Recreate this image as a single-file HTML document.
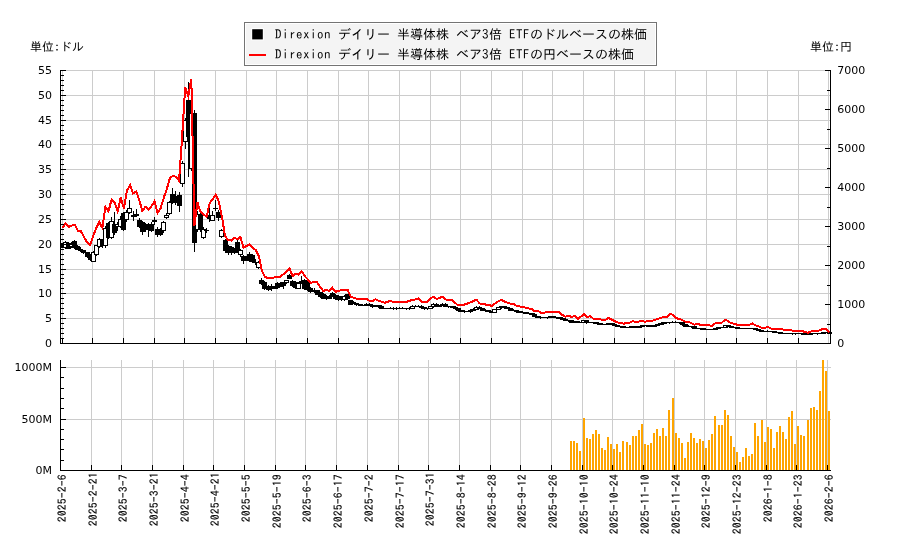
<!DOCTYPE html>
<html><head><meta charset="utf-8"><style>
html,body{margin:0;padding:0;background:#fff;}
body{width:900px;height:550px;overflow:hidden;}
svg{display:block;will-change:transform;}
</style></head><body>
<svg width="900" height="550" viewBox="0 0 900 550">
<rect width="900" height="550" fill="#ffffff"/>
<g shape-rendering="crispEdges">
<path d="M62 70h1v273h-1zM92 70h1v273h-1zM123 70h1v273h-1zM154 70h1v273h-1zM184 70h1v273h-1zM215 70h1v273h-1zM246 70h1v273h-1zM276 70h1v273h-1zM307 70h1v273h-1zM338 70h1v273h-1zM368 70h1v273h-1zM399 70h1v273h-1zM430 70h1v273h-1zM460 70h1v273h-1zM491 70h1v273h-1zM522 70h1v273h-1zM552 70h1v273h-1zM583 70h1v273h-1zM614 70h1v273h-1zM644 70h1v273h-1zM675 70h1v273h-1zM706 70h1v273h-1zM736 70h1v273h-1zM767 70h1v273h-1zM798 70h1v273h-1zM828 70h1v273h-1zM61 318h769v1h-769zM61 293h769v1h-769zM61 269h769v1h-769zM61 244h769v1h-769zM61 219h769v1h-769zM61 194h769v1h-769zM61 169h769v1h-769zM61 144h769v1h-769zM61 120h769v1h-769zM61 95h769v1h-769zM61 70h769v1h-769zM60 360h1v110h-1zM91 360h1v110h-1zM121 360h1v110h-1zM152 360h1v110h-1zM183 360h1v110h-1zM213 360h1v110h-1zM244 360h1v110h-1zM275 360h1v110h-1zM305 360h1v110h-1zM336 360h1v110h-1zM367 360h1v110h-1zM398 360h1v110h-1zM428 360h1v110h-1zM459 360h1v110h-1zM490 360h1v110h-1zM520 360h1v110h-1zM551 360h1v110h-1zM582 360h1v110h-1zM612 360h1v110h-1zM643 360h1v110h-1zM674 360h1v110h-1zM704 360h1v110h-1zM735 360h1v110h-1zM766 360h1v110h-1zM796 360h1v110h-1zM827 360h1v110h-1zM61 419h770v1h-770zM61 367h770v1h-770z" fill="#cccccc"/>
<g fill="#000"><path d="M62 243h1v5h-1zM60 243h5v5h-5z"/><path d="M65 241h1v8h-1zM63 242h5v6h-5z"/><path d="M64 243h3v4h-3z" fill="#fff"/><path d="M68 242h1v7h-1zM66 243h5v6h-5z"/><path d="M71 242h1v6h-1zM69 244h5v3h-5z"/><path d="M70 245h3v1h-3z" fill="#fff"/><path d="M74 240h1v9h-1zM72 241h5v7h-5z"/><path d="M77 245h1v5h-1zM75 246h5v4h-5z"/><path d="M80 247h1v5h-1zM78 249h5v2h-5z"/><path d="M83 250h1v4h-1zM81 250h5v3h-5z"/><path d="M87 252h1v6h-1zM85 252h5v5h-5z"/><path d="M90 254h1v7h-1zM88 256h5v4h-5z"/><path d="M93 251h1v11h-1zM91 252h5v10h-5z"/><path d="M92 253h3v8h-3z" fill="#fff"/><path d="M96 245h1v11h-1zM94 245h5v10h-5z"/><path d="M95 246h3v8h-3z" fill="#fff"/><path d="M99 238h1v10h-1zM97 239h5v8h-5z"/><path d="M98 240h3v6h-3z" fill="#fff"/><path d="M102 239h1v9h-1zM100 240h5v6h-5z"/><path d="M105 226h1v22h-1zM103 228h5v18h-5z"/><path d="M104 229h3v16h-3z" fill="#fff"/><path d="M108 222h1v17h-1zM106 223h5v15h-5z"/><path d="M111 217h1v22h-1zM109 221h5v17h-5z"/><path d="M110 222h3v15h-3z" fill="#fff"/><path d="M114 212h1v23h-1zM112 224h5v9h-5z"/><path d="M117 222h1v9h-1zM115 224h5v3h-5z"/><path d="M116 225h3v1h-3z" fill="#fff"/><path d="M120 216h1v12h-1zM118 219h5v8h-5z"/><path d="M119 220h3v6h-3z" fill="#fff"/><path d="M123 212h1v19h-1zM121 213h5v17h-5z"/><path d="M126 210h1v12h-1zM124 212h5v8h-5z"/><path d="M125 213h3v6h-3z" fill="#fff"/><path d="M129 200h1v14h-1zM127 208h5v5h-5z"/><path d="M128 209h3v3h-3z" fill="#fff"/><path d="M133 211h1v10h-1zM131 215h5v2h-5z"/><path d="M136 209h1v8h-1zM134 214h5v2h-5z"/><path d="M139 218h1v10h-1zM137 220h5v7h-5z"/><path d="M142 221h1v14h-1zM140 222h5v10h-5z"/><path d="M145 223h1v9h-1zM143 225h5v5h-5z"/><path d="M148 223h1v14h-1zM146 224h5v5h-5z"/><path d="M151 222h1v10h-1zM149 224h5v7h-5z"/><path d="M154 217h1v8h-1zM152 220h5v2h-5z"/><path d="M157 227h1v10h-1zM155 229h5v6h-5z"/><path d="M160 228h1v8h-1zM158 230h5v5h-5z"/><path d="M163 221h1v12h-1zM161 222h5v9h-5z"/><path d="M162 223h3v7h-3z" fill="#fff"/><path d="M166 213h1v6h-1zM164 215h5v3h-5z"/><path d="M165 216h3v1h-3z" fill="#fff"/><path d="M169 201h1v14h-1zM167 202h5v12h-5z"/><path d="M168 203h3v10h-3z" fill="#fff"/><path d="M172 188h1v16h-1zM170 194h5v9h-5z"/><path d="M175 191h1v14h-1zM173 196h5v7h-5z"/><path d="M179 192h1v20h-1zM177 195h5v11h-5z"/><path d="M182 161h1v26h-1zM180 163h5v21h-5z"/><path d="M181 164h3v19h-3z" fill="#fff"/><path d="M185 118h1v31h-1zM183 120h5v22h-5z"/><path d="M184 121h3v20h-3z" fill="#fff"/><path d="M188 82h1v95h-1zM186 100h5v37h-5z"/><path d="M191 112h1v59h-1zM189 113h5v56h-5z"/><path d="M190 114h3v54h-3z" fill="#fff"/><path d="M194 110h1v142h-1zM192 113h5v130h-5z"/><path d="M197 211h1v21h-1zM195 214h5v16h-5z"/><path d="M196 215h3v14h-3z" fill="#fff"/><path d="M200 212h1v20h-1zM198 214h5v16h-5z"/><path d="M203 227h1v12h-1zM201 229h5v9h-5z"/><path d="M202 230h3v7h-3z" fill="#fff"/><path d="M206 228h1v5h-1zM204 230h5v1h-5z"/><path d="M209 206h1v16h-1zM207 215h5v4h-5z"/><path d="M212 211h1v10h-1zM210 215h5v6h-5z"/><path d="M211 216h3v4h-3z" fill="#fff"/><path d="M215 200h1v11h-1zM213 208h5v1h-5z"/><path d="M218 210h1v11h-1zM216 212h5v6h-5z"/><path d="M221 229h1v9h-1zM219 230h5v7h-5z"/><path d="M220 231h3v5h-3z" fill="#fff"/><path d="M225 239h1v14h-1zM223 240h5v11h-5z"/><path d="M228 245h1v10h-1zM226 246h5v7h-5z"/><path d="M231 246h1v9h-1zM229 247h5v6h-5z"/><path d="M234 248h1v6h-1zM232 249h5v4h-5z"/><path d="M237 240h1v13h-1zM235 242h5v9h-5z"/><path d="M240 249h1v8h-1zM238 250h5v5h-5z"/><path d="M239 251h3v3h-3z" fill="#fff"/><path d="M243 255h1v9h-1zM241 256h5v5h-5z"/><path d="M246 256h1v5h-1zM244 257h5v2h-5z"/><path d="M249 252h1v10h-1zM247 254h5v7h-5z"/><path d="M252 254h1v9h-1zM250 255h5v7h-5z"/><path d="M255 259h1v6h-1zM253 262h5v1h-5z"/><path d="M258 261h1v8h-1zM256 262h5v6h-5z"/><path d="M257 263h3v4h-3z" fill="#fff"/><path d="M261 278h1v7h-1zM259 280h5v4h-5z"/><path d="M264 281h1v9h-1zM262 282h5v7h-5z"/><path d="M268 285h1v6h-1zM266 286h5v4h-5z"/><path d="M271 284h1v7h-1zM269 286h5v3h-5z"/><path d="M274 286h1v3h-1zM272 286h5v3h-5z"/><path d="M277 282h1v7h-1zM275 283h5v5h-5z"/><path d="M280 282h1v5h-1zM278 283h5v4h-5z"/><path d="M283 282h1v7h-1zM281 282h5v4h-5z"/><path d="M286 280h1v4h-1zM284 280h5v3h-5z"/><path d="M285 281h3v1h-3z" fill="#fff"/><path d="M289 274h1v5h-1zM287 275h5v4h-5z"/><path d="M292 280h1v7h-1zM290 281h5v5h-5z"/><path d="M295 281h1v8h-1zM293 282h5v6h-5z"/><path d="M298 282h1v7h-1zM296 283h5v6h-5z"/><path d="M297 284h3v4h-3z" fill="#fff"/><path d="M301 276h1v8h-1zM299 281h5v2h-5z"/><path d="M304 279h1v11h-1zM302 280h5v9h-5z"/><path d="M307 281h1v10h-1zM305 282h5v8h-5z"/><path d="M310 287h1v6h-1zM308 288h5v4h-5z"/><path d="M314 288h1v5h-1zM312 290h5v2h-5z"/><path d="M317 290h1v5h-1zM315 290h5v5h-5z"/><path d="M320 292h1v6h-1zM318 292h5v5h-5z"/><path d="M323 293h1v6h-1zM321 294h5v5h-5z"/><path d="M326 295h1v5h-1zM324 296h5v3h-5z"/><path d="M329 295h1v4h-1zM327 296h5v3h-5z"/><path d="M332 292h1v5h-1zM330 293h5v4h-5z"/><path d="M335 294h1v6h-1zM333 295h5v4h-5z"/><path d="M338 295h1v6h-1zM336 296h5v4h-5z"/><path d="M341 296h1v5h-1zM339 297h5v3h-5z"/><path d="M344 295h1v6h-1zM342 296h5v4h-5z"/><path d="M343 297h3v2h-3z" fill="#fff"/><path d="M347 294h1v6h-1zM345 294h5v5h-5z"/><path d="M350 300h1v5h-1zM348 300h5v5h-5z"/><path d="M353 301h1v3h-1zM351 302h5v2h-5z"/><path d="M356 303h1v3h-1zM354 303h5v2h-5z"/><path d="M360 304h1v2h-1zM358 304h5v2h-5z"/><path d="M363 305h1v1h-1zM361 305h5v1h-5z"/><path d="M366 303h1v3h-1zM364 304h5v2h-5z"/><path d="M369 303h1v3h-1zM367 304h5v2h-5z"/><path d="M372 304h1v4h-1zM370 305h5v2h-5z"/><path d="M375 305h1v2h-1zM373 305h5v2h-5z"/><path d="M378 305h1v3h-1zM376 305h5v2h-5z"/><path d="M381 305h1v4h-1zM379 306h5v3h-5z"/><path d="M384 308h1v1h-1zM382 308h5v1h-5z"/><path d="M387 308h1v1h-1zM385 308h5v1h-5z"/><path d="M390 307h1v2h-1zM388 308h5v1h-5z"/><path d="M393 307h1v3h-1zM391 308h5v1h-5z"/><path d="M396 307h1v3h-1zM394 308h5v1h-5z"/><path d="M399 307h1v2h-1zM397 308h5v1h-5z"/><path d="M402 307h1v2h-1zM400 308h5v1h-5z"/><path d="M406 308h1v2h-1zM404 308h5v1h-5z"/><path d="M409 307h1v3h-1zM407 308h5v1h-5z"/><path d="M412 305h1v4h-1zM410 306h5v3h-5z"/><path d="M411 307h3v1h-3z" fill="#fff"/><path d="M415 305h1v2h-1zM413 306h5v1h-5z"/><path d="M418 305h1v2h-1zM416 306h5v1h-5z"/><path d="M421 305h1v4h-1zM419 306h5v2h-5z"/><path d="M424 307h1v3h-1zM422 307h5v2h-5z"/><path d="M427 308h1v2h-1zM425 308h5v1h-5z"/><path d="M430 306h1v3h-1zM428 306h5v3h-5z"/><path d="M429 307h3v1h-3z" fill="#fff"/><path d="M433 303h1v5h-1zM431 304h5v3h-5z"/><path d="M432 305h3v1h-3z" fill="#fff"/><path d="M436 303h1v4h-1zM434 304h5v3h-5z"/><path d="M439 305h1v2h-1zM437 305h5v2h-5z"/><path d="M442 303h1v3h-1zM440 304h5v2h-5z"/><path d="M445 303h1v4h-1zM443 304h5v3h-5z"/><path d="M448 306h1v2h-1zM446 306h5v1h-5z"/><path d="M452 306h1v2h-1zM450 306h5v2h-5z"/><path d="M455 306h1v4h-1zM453 307h5v2h-5z"/><path d="M458 308h1v4h-1zM456 308h5v3h-5z"/><path d="M461 310h1v2h-1zM459 310h5v2h-5z"/><path d="M464 310h1v3h-1zM462 311h5v1h-5z"/><path d="M467 311h1v1h-1zM465 311h5v1h-5z"/><path d="M470 309h1v4h-1zM468 310h5v2h-5z"/><path d="M473 308h1v3h-1zM471 309h5v2h-5z"/><path d="M476 306h1v4h-1zM474 307h5v3h-5z"/><path d="M475 308h3v1h-3z" fill="#fff"/><path d="M479 306h1v3h-1zM477 307h5v2h-5z"/><path d="M482 308h1v3h-1zM480 308h5v3h-5z"/><path d="M485 309h1v3h-1zM483 310h5v1h-5z"/><path d="M488 310h1v2h-1zM486 310h5v2h-5z"/><path d="M491 311h1v2h-1zM489 311h5v2h-5z"/><path d="M494 309h1v4h-1zM492 309h5v4h-5z"/><path d="M493 310h3v2h-3z" fill="#fff"/><path d="M498 307h1v3h-1zM496 307h5v3h-5z"/><path d="M497 308h3v1h-3z" fill="#fff"/><path d="M501 306h1v3h-1zM499 306h5v2h-5z"/><path d="M504 306h1v3h-1zM502 306h5v2h-5z"/><path d="M507 307h1v2h-1zM505 307h5v2h-5z"/><path d="M510 308h1v3h-1zM508 308h5v3h-5z"/><path d="M513 309h1v2h-1zM511 310h5v1h-5z"/><path d="M516 310h1v3h-1zM514 310h5v2h-5z"/><path d="M519 311h1v2h-1zM517 311h5v2h-5z"/><path d="M522 311h1v2h-1zM520 312h5v1h-5z"/><path d="M525 312h1v2h-1zM523 312h5v2h-5z"/><path d="M528 312h1v2h-1zM526 313h5v1h-5z"/><path d="M531 313h1v2h-1zM529 313h5v2h-5z"/><path d="M534 313h1v4h-1zM532 314h5v3h-5z"/><path d="M537 316h1v2h-1zM535 316h5v2h-5z"/><path d="M540 316h1v3h-1zM538 317h5v1h-5z"/><path d="M544 317h1v1h-1zM542 317h5v1h-5z"/><path d="M547 317h1v2h-1zM545 317h5v1h-5z"/><path d="M550 316h1v2h-1zM548 316h5v2h-5z"/><path d="M553 316h1v2h-1zM551 316h5v2h-5z"/><path d="M556 317h1v2h-1zM554 317h5v1h-5z"/><path d="M559 317h1v2h-1zM557 317h5v2h-5z"/><path d="M562 317h1v3h-1zM560 318h5v2h-5z"/><path d="M565 318h1v3h-1zM563 319h5v2h-5z"/><path d="M568 320h1v2h-1zM566 320h5v1h-5z"/><path d="M571 320h1v3h-1zM569 320h5v3h-5z"/><path d="M574 321h1v2h-1zM572 321h5v2h-5z"/><path d="M577 321h1v2h-1zM575 321h5v2h-5z"/><path d="M580 322h1v1h-1zM578 322h5v1h-5z"/><path d="M583 320h1v3h-1zM581 320h5v3h-5z"/><path d="M582 321h3v1h-3z" fill="#fff"/><path d="M586 320h1v4h-1zM584 320h5v3h-5z"/><path d="M590 322h1v1h-1zM588 322h5v1h-5z"/><path d="M593 322h1v2h-1zM591 322h5v1h-5z"/><path d="M596 322h1v2h-1zM594 322h5v2h-5z"/><path d="M599 323h1v2h-1zM597 323h5v2h-5z"/><path d="M602 323h1v2h-1zM600 324h5v1h-5z"/><path d="M605 324h1v1h-1zM603 324h5v1h-5z"/><path d="M608 323h1v2h-1zM606 323h5v2h-5z"/><path d="M611 323h1v2h-1zM609 323h5v2h-5z"/><path d="M614 323h1v3h-1zM612 324h5v2h-5z"/><path d="M617 325h1v2h-1zM615 325h5v2h-5z"/><path d="M620 326h1v2h-1zM618 326h5v1h-5z"/><path d="M623 326h1v2h-1zM621 326h5v2h-5z"/><path d="M626 327h1v1h-1zM624 327h5v1h-5z"/><path d="M629 326h1v2h-1zM627 327h5v1h-5z"/><path d="M632 326h1v2h-1zM630 326h5v2h-5z"/><path d="M636 326h1v2h-1zM634 326h5v2h-5z"/><path d="M639 326h1v2h-1zM637 326h5v2h-5z"/><path d="M642 325h1v2h-1zM640 325h5v2h-5z"/><path d="M645 325h1v1h-1zM643 325h5v1h-5z"/><path d="M648 325h1v2h-1zM646 325h5v2h-5z"/><path d="M651 325h1v2h-1zM649 326h5v1h-5z"/><path d="M654 325h1v2h-1zM652 325h5v2h-5z"/><path d="M657 324h1v2h-1zM655 324h5v2h-5z"/><path d="M660 323h1v2h-1zM658 323h5v2h-5z"/><path d="M663 322h1v3h-1zM661 322h5v2h-5z"/><path d="M666 322h1v2h-1zM664 322h5v1h-5z"/><path d="M669 322h1v2h-1zM667 322h5v1h-5z"/><path d="M672 321h1v2h-1zM670 322h5v1h-5z"/><path d="M675 321h1v2h-1zM673 322h5v1h-5z"/><path d="M679 322h1v2h-1zM677 322h5v1h-5z"/><path d="M682 322h1v4h-1zM680 322h5v3h-5z"/><path d="M685 324h1v3h-1zM683 324h5v3h-5z"/><path d="M688 325h1v2h-1zM686 326h5v1h-5z"/><path d="M691 326h1v2h-1zM689 326h5v1h-5z"/><path d="M694 326h1v3h-1zM692 326h5v3h-5z"/><path d="M697 328h1v1h-1zM695 328h5v1h-5z"/><path d="M700 328h1v2h-1zM698 328h5v1h-5z"/><path d="M703 328h1v2h-1zM701 328h5v2h-5z"/><path d="M706 329h1v1h-1zM704 329h5v1h-5z"/><path d="M709 329h1v1h-1zM707 329h5v1h-5z"/><path d="M712 329h1v1h-1zM710 329h5v1h-5z"/><path d="M715 328h1v2h-1zM713 328h5v2h-5z"/><path d="M718 327h1v2h-1zM716 327h5v2h-5z"/><path d="M721 327h1v1h-1zM719 327h5v1h-5z"/><path d="M725 325h1v3h-1zM723 325h5v3h-5z"/><path d="M724 326h3v1h-3z" fill="#fff"/><path d="M728 325h1v2h-1zM726 325h5v2h-5z"/><path d="M731 326h1v2h-1zM729 326h5v2h-5z"/><path d="M734 327h1v1h-1zM732 327h5v1h-5z"/><path d="M737 327h1v2h-1zM735 327h5v2h-5z"/><path d="M740 328h1v1h-1zM738 328h5v1h-5z"/><path d="M743 328h1v1h-1zM741 328h5v1h-5z"/><path d="M746 328h1v1h-1zM744 328h5v1h-5z"/><path d="M749 328h1v1h-1zM747 328h5v1h-5z"/><path d="M752 328h1v1h-1zM750 328h5v1h-5z"/><path d="M755 328h1v2h-1zM753 328h5v2h-5z"/><path d="M758 329h1v2h-1zM756 329h5v2h-5z"/><path d="M761 330h1v2h-1zM759 330h5v2h-5z"/><path d="M764 331h1v1h-1zM762 331h5v1h-5z"/><path d="M767 330h1v2h-1zM765 331h5v1h-5z"/><path d="M771 331h1v1h-1zM769 331h5v1h-5z"/><path d="M774 331h1v2h-1zM772 331h5v2h-5z"/><path d="M777 332h1v1h-1zM775 332h5v1h-5z"/><path d="M780 332h1v2h-1zM778 332h5v2h-5z"/><path d="M783 333h1v1h-1zM781 333h5v1h-5z"/><path d="M786 333h1v1h-1zM784 333h5v1h-5z"/><path d="M789 333h1v1h-1zM787 333h5v1h-5z"/><path d="M792 333h1v2h-1zM790 333h5v1h-5z"/><path d="M795 333h1v2h-1zM793 333h5v1h-5z"/><path d="M798 333h1v1h-1zM796 333h5v1h-5z"/><path d="M801 333h1v2h-1zM799 333h5v1h-5z"/><path d="M804 333h1v2h-1zM802 333h5v2h-5z"/><path d="M807 334h1v1h-1zM805 334h5v1h-5z"/><path d="M810 333h1v2h-1zM808 333h5v2h-5z"/><path d="M813 333h1v1h-1zM811 333h5v1h-5z"/><path d="M817 333h1v2h-1zM815 333h5v1h-5z"/><path d="M820 333h1v1h-1zM818 333h5v1h-5z"/><path d="M823 332h1v2h-1zM821 332h5v2h-5z"/><path d="M826 332h1v1h-1zM824 332h5v1h-5z"/><path d="M829 332h1v2h-1zM827 332h5v2h-5z"/></g>
<polyline points="62.50,228.20 65.57,223.60 68.63,226.80 71.70,225.70 74.77,224.50 77.84,230.90 80.90,231.20 83.97,236.80 87.04,242.30 90.10,244.80 93.17,236.00 96.24,228.00 99.31,222.10 102.37,227.90 105.44,206.80 108.51,211.20 111.58,199.50 114.64,202.40 117.71,211.20 120.78,197.40 123.84,208.40 126.91,190.90 129.98,184.90 133.05,193.60 136.11,191.50 139.18,199.60 142.25,211.10 145.31,206.70 148.38,209.40 151.45,206.20 154.52,201.30 157.58,212.70 160.65,208.20 163.72,198.00 166.78,189.00 169.85,178.30 172.92,175.70 175.99,177.00 179.05,180.80 182.12,137.00 185.19,87.00 188.26,96.00 191.32,79.00 194.39,225.50 197.46,202.40 200.52,211.90 203.59,214.80 206.66,216.60 209.73,203.00 212.79,198.90 215.86,194.70 218.93,201.80 221.99,217.20 225.06,236.10 228.13,240.20 231.20,240.50 234.26,237.60 237.33,239.30 240.40,237.00 243.46,247.60 246.53,246.00 249.60,244.00 252.67,248.00 255.73,250.00 258.80,256.00 261.87,270.50 264.94,276.70 268.00,278.50 271.07,277.80 274.14,277.50 277.20,277.10 280.27,276.70 283.34,274.20 286.41,271.60 289.47,268.40 292.54,276.00 295.61,273.80 298.67,274.60 301.74,271.30 304.81,276.20 307.88,279.50 310.94,282.80 314.01,281.70 317.08,282.20 320.14,287.10 323.21,291.00 326.28,289.80 329.35,291.00 332.41,287.70 335.48,292.00 338.55,290.70 341.62,290.20 344.68,289.90 347.75,290.20 350.82,296.70 353.88,297.80 356.95,298.90 360.02,298.90 363.09,298.90 366.15,298.90 369.22,300.60 372.29,301.10 375.35,299.30 378.42,300.60 381.49,301.70 384.56,302.80 387.62,301.70 390.69,301.10 393.76,301.90 396.82,301.90 399.89,301.90 402.96,301.90 406.03,301.90 409.09,301.10 412.16,299.70 415.23,299.50 418.30,298.60 421.36,301.70 424.43,301.90 427.50,301.70 430.56,298.40 433.63,296.70 436.70,298.90 439.77,297.80 442.83,296.70 445.90,299.50 448.97,299.70 452.03,299.70 455.10,302.80 458.17,305.50 461.24,305.40 464.30,304.60 467.37,303.50 470.44,302.40 473.50,301.00 476.57,299.70 479.64,303.50 482.71,303.80 485.77,304.60 488.84,304.90 491.91,306.00 494.98,303.50 498.04,301.60 501.11,299.70 504.18,301.30 507.24,302.70 510.31,303.50 513.38,303.80 516.45,305.70 519.51,306.40 522.58,307.00 525.65,307.70 528.71,308.50 531.78,308.80 534.85,311.40 537.92,310.70 540.98,312.80 544.05,312.80 547.12,311.70 550.18,311.70 553.25,311.70 556.32,311.70 559.39,312.50 562.45,315.00 565.52,316.70 568.59,315.60 571.66,317.20 574.72,315.60 577.79,318.80 580.86,316.70 583.92,314.00 586.99,317.50 590.06,316.00 593.13,318.50 596.19,319.00 599.26,319.00 602.33,319.80 605.39,319.80 608.46,318.00 611.53,319.50 614.60,321.00 617.66,322.50 620.73,322.80 623.80,323.80 626.86,322.50 629.93,322.50 633.00,321.00 636.07,322.20 639.13,321.50 642.20,320.80 645.27,322.00 648.34,320.50 651.40,321.00 654.47,320.00 657.54,319.20 660.60,318.00 663.67,316.80 666.74,317.00 669.81,313.80 672.87,314.80 675.94,318.20 679.01,318.80 682.07,320.00 685.14,321.50 688.21,321.80 691.28,323.00 694.34,324.80 697.41,323.80 700.48,324.80 703.54,324.80 706.61,325.00 709.68,325.50 712.75,325.50 715.81,322.80 718.88,322.50 721.95,322.50 725.02,319.80 728.08,321.00 731.15,323.20 734.22,323.80 737.28,324.80 740.35,324.80 743.42,324.80 746.49,324.80 749.55,324.80 752.62,323.50 755.69,325.50 758.75,326.50 761.82,327.80 764.89,327.80 767.96,327.00 771.02,328.50 774.09,328.80 777.16,328.80 780.22,328.80 783.29,329.50 786.36,329.80 789.43,329.80 792.49,330.60 795.56,330.60 798.63,330.60 801.70,330.60 804.76,332.00 807.83,332.70 810.90,331.60 813.96,330.60 817.03,331.60 820.10,330.00 823.17,328.80 826.23,328.80 829.30,332.50" fill="none" stroke="#ff0000" stroke-width="2" stroke-linejoin="miter"/>
<path d="M570 441h2v29h-2zM573 441h2v29h-2zM576 443h2v27h-2zM579 451h2v19h-2zM583 418h2v52h-2zM586 438h2v32h-2zM589 439h2v31h-2zM592 434h2v36h-2zM595 430h2v40h-2zM598 434h2v36h-2zM601 448h2v22h-2zM604 450h2v20h-2zM607 437h2v33h-2zM610 444h2v26h-2zM613 449h2v21h-2zM616 444h2v26h-2zM619 452h2v18h-2zM622 441h2v29h-2zM626 442h2v28h-2zM629 445h2v25h-2zM632 436h2v34h-2zM635 436h2v34h-2zM638 430h2v40h-2zM641 424h2v46h-2zM644 444h2v26h-2zM647 445h2v25h-2zM650 443h2v27h-2zM653 433h2v37h-2zM656 429h2v41h-2zM659 436h2v34h-2zM662 428h2v42h-2zM665 436h2v34h-2zM668 410h2v60h-2zM672 398h2v72h-2zM675 433h2v37h-2zM678 438h2v32h-2zM681 443h2v27h-2zM684 458h2v12h-2zM687 442h2v28h-2zM690 433h2v37h-2zM693 438h2v32h-2zM696 443h2v27h-2zM699 439h2v31h-2zM702 441h2v29h-2zM705 448h2v22h-2zM708 440h2v30h-2zM711 434h2v36h-2zM714 416h2v54h-2zM718 425h2v45h-2zM721 425h2v45h-2zM724 410h2v60h-2zM727 415h2v55h-2zM730 436h2v34h-2zM733 447h2v23h-2zM736 452h2v18h-2zM739 462h2v8h-2zM742 457h2v13h-2zM745 448h2v22h-2zM748 456h2v14h-2zM751 454h2v16h-2zM754 423h2v47h-2zM757 436h2v34h-2zM761 420h2v50h-2zM764 442h2v28h-2zM767 427h2v43h-2zM770 429h2v41h-2zM773 448h2v22h-2zM776 432h2v38h-2zM779 426h2v44h-2zM782 432h2v38h-2zM785 439h2v31h-2zM788 417h2v53h-2zM791 411h2v59h-2zM794 444h2v26h-2zM797 426h2v44h-2zM800 435h2v35h-2zM803 436h2v34h-2zM807 420h2v50h-2zM810 408h2v62h-2zM813 407h2v63h-2zM816 410h2v60h-2zM819 391h2v79h-2zM822 360h2v110h-2zM825 371h2v99h-2zM828 411h2v59h-2z" fill="#ffa500"/>
<path d="M60 70h1v274h-1zM830 70h1v274h-1zM60 343h771v1h-771zM60 360h1v111h-1zM60 470h771v1h-771zM61 343h5v1h-5zM61 338h3v1h-3zM61 333h3v1h-3zM61 328h3v1h-3zM61 323h3v1h-3zM61 318h5v1h-5zM61 313h3v1h-3zM61 308h3v1h-3zM61 303h3v1h-3zM61 298h3v1h-3zM61 293h5v1h-5zM61 288h3v1h-3zM61 283h3v1h-3zM61 278h3v1h-3zM61 274h3v1h-3zM61 269h5v1h-5zM61 264h3v1h-3zM61 259h3v1h-3zM61 254h3v1h-3zM61 249h3v1h-3zM61 244h5v1h-5zM61 239h3v1h-3zM61 234h3v1h-3zM61 229h3v1h-3zM61 224h3v1h-3zM61 219h5v1h-5zM61 214h3v1h-3zM61 209h3v1h-3zM61 204h3v1h-3zM61 199h3v1h-3zM61 194h5v1h-5zM61 189h3v1h-3zM61 184h3v1h-3zM61 179h3v1h-3zM61 174h3v1h-3zM61 169h5v1h-5zM61 164h3v1h-3zM61 159h3v1h-3zM61 154h3v1h-3zM61 149h3v1h-3zM61 144h5v1h-5zM61 139h3v1h-3zM61 135h3v1h-3zM61 130h3v1h-3zM61 125h3v1h-3zM61 120h5v1h-5zM61 115h3v1h-3zM61 110h3v1h-3zM61 105h3v1h-3zM61 100h3v1h-3zM61 95h5v1h-5zM61 90h3v1h-3zM61 85h3v1h-3zM61 80h3v1h-3zM61 75h3v1h-3zM61 70h5v1h-5zM825 343h5v1h-5zM827 324h3v1h-3zM825 304h5v1h-5zM827 285h3v1h-3zM825 265h5v1h-5zM827 246h3v1h-3zM825 226h5v1h-5zM827 207h3v1h-3zM825 187h5v1h-5zM827 168h3v1h-3zM825 148h5v1h-5zM827 129h3v1h-3zM825 109h5v1h-5zM827 90h3v1h-3zM825 70h5v1h-5zM62 338h1v5h-1zM92 338h1v5h-1zM123 338h1v5h-1zM154 338h1v5h-1zM184 338h1v5h-1zM215 338h1v5h-1zM246 338h1v5h-1zM276 338h1v5h-1zM307 338h1v5h-1zM338 338h1v5h-1zM368 338h1v5h-1zM399 338h1v5h-1zM430 338h1v5h-1zM460 338h1v5h-1zM491 338h1v5h-1zM522 338h1v5h-1zM552 338h1v5h-1zM583 338h1v5h-1zM614 338h1v5h-1zM644 338h1v5h-1zM675 338h1v5h-1zM706 338h1v5h-1zM736 338h1v5h-1zM767 338h1v5h-1zM798 338h1v5h-1zM61 470h5v1h-5zM61 460h3v1h-3zM61 449h3v1h-3zM61 439h3v1h-3zM61 429h3v1h-3zM61 419h5v1h-5zM61 408h3v1h-3zM61 398h3v1h-3zM61 388h3v1h-3zM61 377h3v1h-3zM61 367h5v1h-5zM60 465h1v5h-1zM91 465h1v5h-1zM121 465h1v5h-1zM152 465h1v5h-1zM183 465h1v5h-1zM213 465h1v5h-1zM244 465h1v5h-1zM275 465h1v5h-1zM305 465h1v5h-1zM336 465h1v5h-1zM367 465h1v5h-1zM398 465h1v5h-1zM428 465h1v5h-1zM459 465h1v5h-1zM490 465h1v5h-1zM520 465h1v5h-1zM551 465h1v5h-1zM582 465h1v5h-1zM612 465h1v5h-1zM643 465h1v5h-1zM674 465h1v5h-1zM704 465h1v5h-1zM735 465h1v5h-1zM766 465h1v5h-1zM796 465h1v5h-1zM827 465h1v5h-1z" fill="#000"/>
<path d="M244 22h413v44h-413z" fill="#747474"/>
<path d="M245 23h411v42h-411z" fill="#ffffff"/>
<path d="M246 24h409v40h-409z" fill="#f4f4f4"/>
<path d="M249 54h17v2h-17z" fill="#ff0000"/>
</g>
<rect x="251.2" y="28.2" width="12.6" height="12.2" fill="#ffffff"/>
<rect x="252.2" y="29.2" width="10.6" height="10.2" fill="#000000"/>
<g style="font-family:'DejaVu Sans',sans-serif;font-size:11px" fill="#000"><text x="52" y="346.70" text-anchor="end">0</text><text x="52" y="321.70" text-anchor="end">5</text><text x="52" y="296.70" text-anchor="end">10</text><text x="52" y="272.70" text-anchor="end">15</text><text x="52" y="247.70" text-anchor="end">20</text><text x="52" y="222.70" text-anchor="end">25</text><text x="52" y="197.70" text-anchor="end">30</text><text x="52" y="172.70" text-anchor="end">35</text><text x="52" y="147.70" text-anchor="end">40</text><text x="52" y="123.70" text-anchor="end">45</text><text x="52" y="98.70" text-anchor="end">50</text><text x="52" y="73.70" text-anchor="end">55</text><text x="837.2" y="346.70">0</text><text x="837.2" y="307.70">1000</text><text x="837.2" y="268.70">2000</text><text x="837.2" y="229.70">3000</text><text x="837.2" y="190.70">4000</text><text x="837.2" y="151.70">5000</text><text x="837.2" y="112.70">6000</text><text x="837.2" y="73.70">7000</text><text x="52" y="473.70" text-anchor="end">0M</text><text x="52" y="422.70" text-anchor="end">500M</text><text x="52" y="370.70" text-anchor="end">1000M</text></g>
<g style="font-family:'IPAGothic','Noto Sans CJK JP',sans-serif;font-size:11px" fill="#000" stroke="#000" stroke-width="0.2"><text transform="translate(66.10,474) rotate(-90)" x="-48 -42 -36 -30 -24 -18 -12 -6">2025-2-6</text><text transform="translate(97.10,472) rotate(-90)" x="-54 -48 -42 -36 -30 -24 -18 -12 -6">2025-2-21</text><text transform="translate(127.10,474) rotate(-90)" x="-48 -42 -36 -30 -24 -18 -12 -6">2025-3-7</text><text transform="translate(158.10,472) rotate(-90)" x="-54 -48 -42 -36 -30 -24 -18 -12 -6">2025-3-21</text><text transform="translate(189.10,474) rotate(-90)" x="-48 -42 -36 -30 -24 -18 -12 -6">2025-4-4</text><text transform="translate(219.10,472) rotate(-90)" x="-54 -48 -42 -36 -30 -24 -18 -12 -6">2025-4-21</text><text transform="translate(250.10,474) rotate(-90)" x="-48 -42 -36 -30 -24 -18 -12 -6">2025-5-5</text><text transform="translate(281.10,474) rotate(-90)" x="-54 -48 -42 -36 -30 -24 -18 -12 -6">2025-5-19</text><text transform="translate(311.10,474) rotate(-90)" x="-48 -42 -36 -30 -24 -18 -12 -6">2025-6-3</text><text transform="translate(342.10,474) rotate(-90)" x="-54 -48 -42 -36 -30 -24 -18 -12 -6">2025-6-17</text><text transform="translate(373.10,474) rotate(-90)" x="-48 -42 -36 -30 -24 -18 -12 -6">2025-7-2</text><text transform="translate(404.10,474) rotate(-90)" x="-54 -48 -42 -36 -30 -24 -18 -12 -6">2025-7-17</text><text transform="translate(434.10,472) rotate(-90)" x="-54 -48 -42 -36 -30 -24 -18 -12 -6">2025-7-31</text><text transform="translate(465.10,474) rotate(-90)" x="-54 -48 -42 -36 -30 -24 -18 -12 -6">2025-8-14</text><text transform="translate(496.10,474) rotate(-90)" x="-54 -48 -42 -36 -30 -24 -18 -12 -6">2025-8-28</text><text transform="translate(526.10,474) rotate(-90)" x="-54 -48 -42 -36 -30 -24 -18 -12 -6">2025-9-12</text><text transform="translate(557.10,474) rotate(-90)" x="-54 -48 -42 -36 -30 -24 -18 -12 -6">2025-9-26</text><text transform="translate(588.10,474) rotate(-90)" x="-60 -54 -48 -42 -36 -30 -24 -18 -12 -6">2025-10-10</text><text transform="translate(618.10,474) rotate(-90)" x="-60 -54 -48 -42 -36 -30 -24 -18 -12 -6">2025-10-24</text><text transform="translate(649.10,474) rotate(-90)" x="-60 -54 -48 -42 -36 -30 -24 -18 -12 -6">2025-11-10</text><text transform="translate(680.10,474) rotate(-90)" x="-60 -54 -48 -42 -36 -30 -24 -18 -12 -6">2025-11-24</text><text transform="translate(710.10,474) rotate(-90)" x="-54 -48 -42 -36 -30 -24 -18 -12 -6">2025-12-9</text><text transform="translate(741.10,474) rotate(-90)" x="-60 -54 -48 -42 -36 -30 -24 -18 -12 -6">2025-12-23</text><text transform="translate(772.10,474) rotate(-90)" x="-48 -42 -36 -30 -24 -18 -12 -6">2026-1-8</text><text transform="translate(802.10,474) rotate(-90)" x="-54 -48 -42 -36 -30 -24 -18 -12 -6">2026-1-23</text><text transform="translate(833.10,474) rotate(-90)" x="-48 -42 -36 -30 -24 -18 -12 -6">2026-2-6</text></g>
<text x="30 42 54 60 72" y="51" style="font-family:'IPAGothic','Noto Sans CJK JP',sans-serif;font-size:12px" >単位:ドル</text>
<text x="810 822 834 840" y="51" style="font-family:'IPAGothic','Noto Sans CJK JP',sans-serif;font-size:12px" >単位:円</text>
<text x="275 282 289 296 303 310 317 324 331 338 351 364 377 390 397 410 423 436 449 456 469 482 489 502 509 516 523 530 543 556 569 582 595 608 621 634" y="39.2" style="font-family:'IPAGothic','Noto Sans CJK JP',sans-serif;font-size:13px" >Direxion デイリー 半導体株 ベア3倍 ETFのドルベースの株価</text>
<text x="275 282 289 296 303 310 317 324 331 338 351 364 377 390 397 410 423 436 449 456 469 482 489 502 509 516 523 530 543 556 569 582 595 608 621" y="59" style="font-family:'IPAGothic','Noto Sans CJK JP',sans-serif;font-size:13px" >Direxion デイリー 半導体株 ベア3倍 ETFの円ベースの株価</text>
</svg>
</body></html>
